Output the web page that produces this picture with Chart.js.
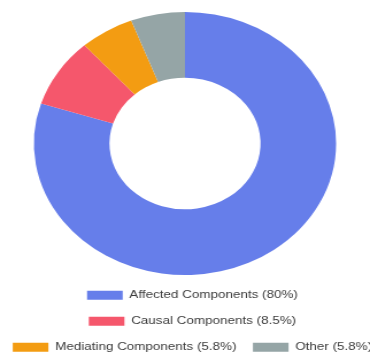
<!DOCTYPE html>
<html lang="en">
<head>
    <meta charset="UTF-8">
    <title>Component Breakdown</title>
    <script src="https://cdn.jsdelivr.net/npm/chart.js"></script>
    <style>
        html, body {
            margin: 0;
            padding: 0;
            background: #ffffff;
            overflow: hidden;
        }
        /* chart is drawn narrow and stretched sideways, giving the oval ring */
        .chart-wrap {
            width: 322px;
            height: 363px;
            transform: scaleX(1.149);
            transform-origin: 0 0;
        }
        canvas {
            display: block;
        }
    </style>
</head>
<body>
    <div class="chart-wrap">
        <canvas id="componentChart" width="322" height="363"></canvas>
    </div>

    <script>
        // Share of components by role
        const categories = ['Affected Components', 'Causal Components', 'Mediating Components', 'Other'];
        const shares = [80, 8.5, 5.8, 5.8];
        const sliceColors = ['#667eea', '#f5576c', '#f39c12', '#95a5a6'];

        const legendLabels = categories.map((name, i) => `${name} (${shares[i]}%)`);

        // push the legend a little to the right of the ring's centre line
        const legendNudge = {
            id: 'legendNudge',
            afterLayout(chart) {
                chart.legend.left += 6.5;
                chart.legend.right += 6.5;
            }
        };

        const ctx = document.getElementById('componentChart').getContext('2d');
        const componentChart = new Chart(ctx, {
            type: 'doughnut',
            data: {
                labels: legendLabels,
                datasets: [{
                    data: shares,
                    backgroundColor: sliceColors,
                    borderWidth: 0
                }]
            },
            options: {
                responsive: false,
                animation: false,
                cutout: '50%',
                // negative sides give the legend room to keep the last two items on one row
                layout: {
                    padding: { top: 12, left: -20, right: -20, bottom: 0 }
                },
                plugins: {
                    tooltip: { enabled: false },
                    legend: {
                        position: 'bottom',
                        labels: {
                            boxWidth: 31,
                            boxHeight: 9,
                            padding: 14.3,
                            color: '#3c3c3c',
                            font: {
                                family: "'Liberation Sans', Arial, sans-serif",
                                size: 11.7
                            }
                        }
                    }
                }
            },
            plugins: [legendNudge]
        });
    </script>
</body>
</html>
